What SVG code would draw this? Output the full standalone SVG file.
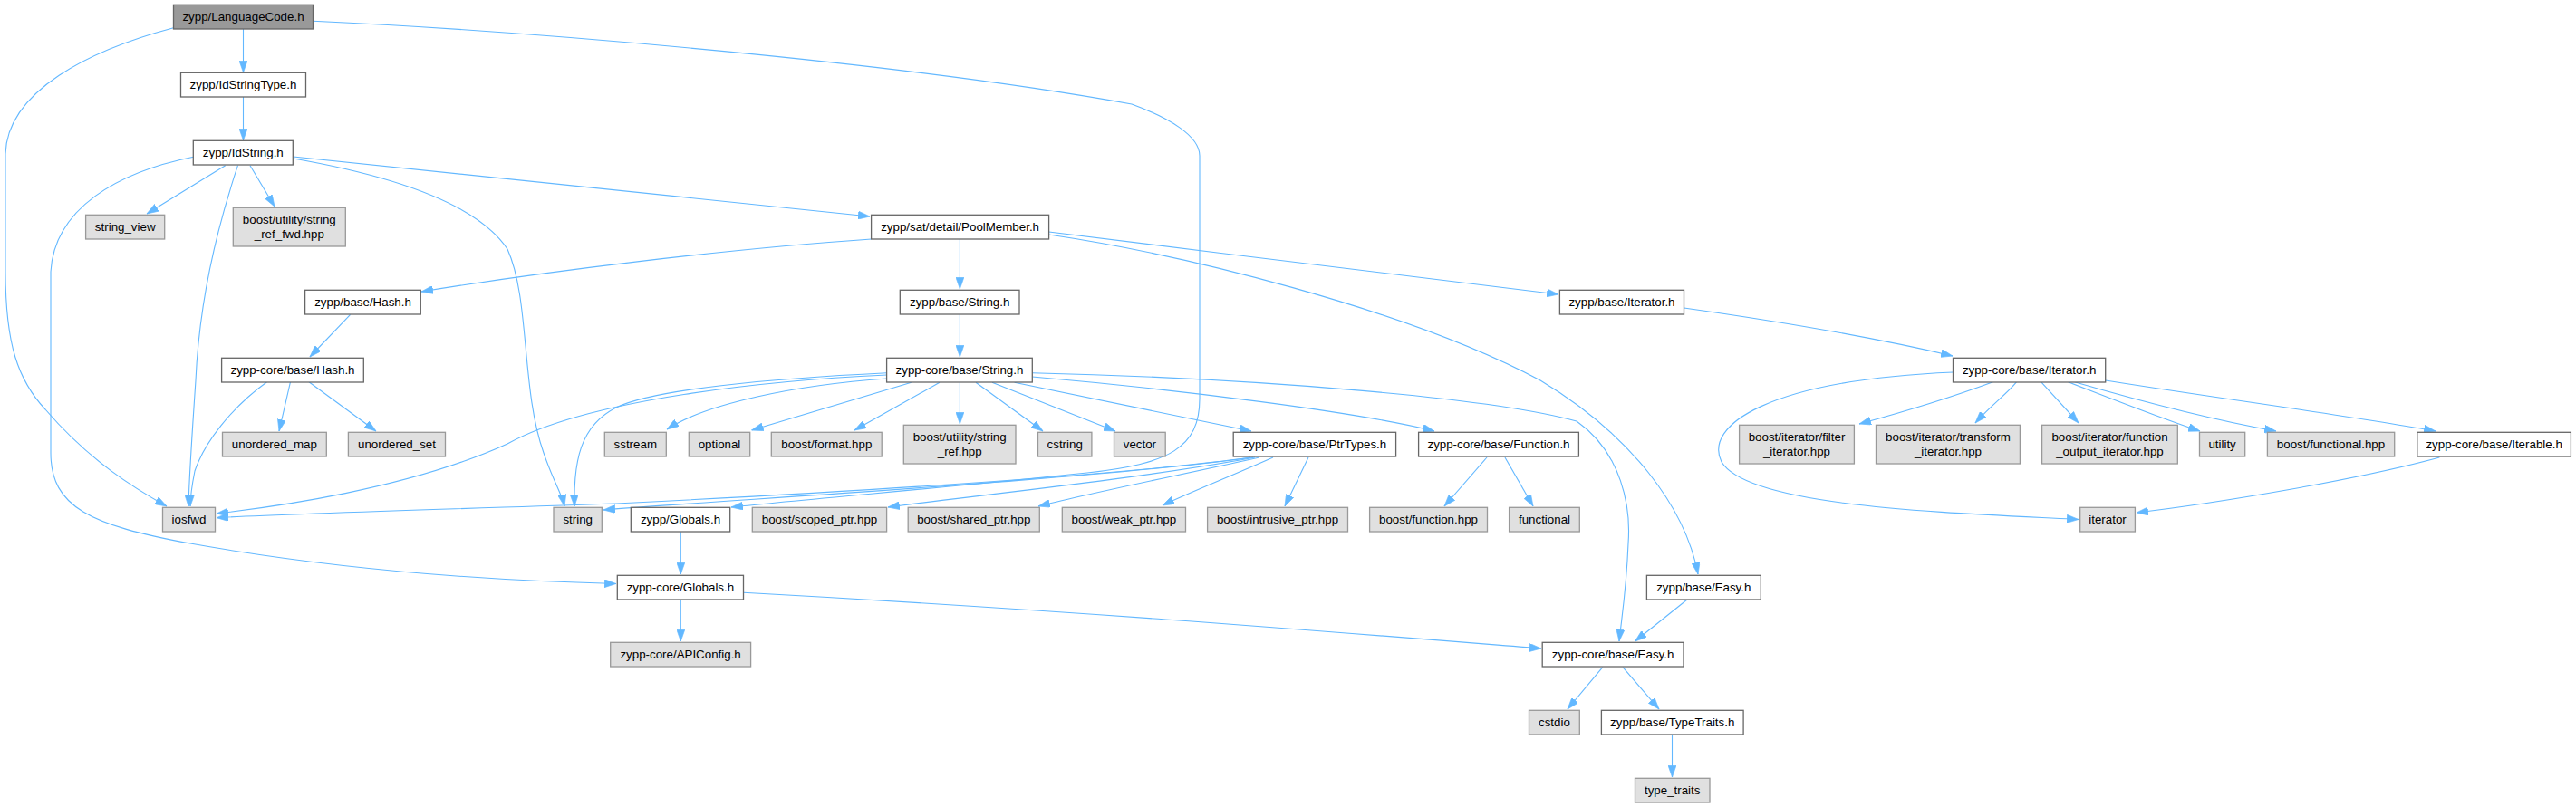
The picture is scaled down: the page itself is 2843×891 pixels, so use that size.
<svg xmlns="http://www.w3.org/2000/svg" width="2843" height="891" viewBox="0 0 2843 891">
<style>
rect{stroke-width:1.3}
.w{fill:#ffffff;stroke:#666666}
.g{fill:#e0e0e0;stroke:#999999}
.r{fill:#999999;stroke:#666666}
text{font-family:"Liberation Sans",Arial,Helvetica,sans-serif;font-size:13.33px;fill:#000000;text-anchor:middle}
.e path{fill:none;stroke:#63b8ff;stroke-width:1.1;marker-end:url(#a)}
</style>
<defs>
<marker id="a" viewBox="0 0 10 7" refX="10" refY="3.5" markerWidth="13" markerHeight="9" markerUnits="userSpaceOnUse" orient="auto">
<path d="M0,0 L10,3.5 L0,7 z" fill="#63b8ff" stroke="#63b8ff" stroke-width="0.5"/>
</marker>
</defs>
<rect width="2843" height="891" fill="#ffffff"/>
<g class="e">
<path d="M268.5,32 L268.5,80"/>
<path d="M191.5,30.7 C100,55 8,100 6,170 L6,300 C6,380 20,420 50,452 C100,510 150,540 184,559"/>
<path d="M345.5,23.3 C600,35 1000,70 1249,115 C1290,130 1324,150 1324,172 L1324,440 C1324,495 1290,512 1200,522 C1050,538 900,550 807,560"/>
<path d="M268.5,107 L268.5,155"/>
<path d="M248.7,182.7 L162,236"/>
<path d="M276,182.7 L303,228"/>
<path d="M262.5,182.7 C240,250 220,330 216,420 C212,480 209,520 208,559"/>
<path d="M323.7,175 C450,197 530,230 560,275 C585,330 575,430 600,500 C610,530 620,545 623,559"/>
<path d="M323.7,173 L960,239"/>
<path d="M213.4,173.3 C130,190 60,230 56,300 L56,500 C56,560 100,580 210,600 C350,625 500,640 680,644.5"/>
<path d="M961.6,264 C800,275 600,300 465,322"/>
<path d="M1059.4,264 L1059.4,319"/>
<path d="M1157.6,256 C1350,280 1600,310 1720,325"/>
<path d="M1157.6,259 C1300,280 1550,340 1700,420 C1800,480 1860,560 1874,634"/>
<path d="M386.6,347.3 L342,394"/>
<path d="M294.6,421.7 C255,450 225,490 215,520 C212,535 210,545 210,559"/>
<path d="M320.5,421.7 L308,476"/>
<path d="M341,421.7 L415,476"/>
<path d="M1059.4,347 L1059.4,394"/>
<path d="M978.6,411.7 C850,418 720,430 680,450 C640,470 633,510 634,559"/>
<path d="M978.6,414 C850,420 650,440 560,490 C450,540 300,560 239,567"/>
<path d="M978.6,418 C880,425 780,445 736,474"/>
<path d="M1005.8,422.3 L829.5,475"/>
<path d="M1037,422.3 L943,475"/>
<path d="M1059.4,422.3 L1059.4,468"/>
<path d="M1077,422.3 L1151,476"/>
<path d="M1095,422.3 L1231,476"/>
<path d="M1119.6,422.3 L1381,476"/>
<path d="M1139.3,416 C1300,430 1500,455 1583,476"/>
<path d="M1139.3,411.7 C1400,418 1650,440 1740,465 C1790,500 1800,560 1797,600 C1795,650 1790,680 1787,708"/>
<path d="M1858.5,340 C2000,360 2100,380 2155,393"/>
<path d="M2155.5,411 C1950,420 1880,470 1900,510 C1930,560 2150,566 2294,573.5"/>
<path d="M2199.5,421.7 C2150,440 2100,455 2052,468"/>
<path d="M2225.6,421.7 C2215,435 2200,445 2180,467"/>
<path d="M2252.6,421.7 L2294,467"/>
<path d="M2282.5,421.7 C2330,440 2380,460 2428,476"/>
<path d="M2289.6,421.7 C2370,445 2450,465 2512,476"/>
<path d="M2323.7,420 C2450,440 2600,460 2688,476"/>
<path d="M2692.4,505 C2600,530 2450,555 2358,566"/>
<path d="M1380,505 C1200,530 800,550 680,556 C500,562 300,568 239,571.7"/>
<path d="M1383,505 C1200,530 800,552 666,563"/>
<path d="M1385,505 C1250,530 1050,550 980,560"/>
<path d="M1390,505 C1300,525 1200,545 1146,559"/>
<path d="M1405,505 C1360,525 1310,545 1283,558"/>
<path d="M1444,505 L1418,559"/>
<path d="M1641,505 L1594,559"/>
<path d="M1661,505 L1692,559"/>
<path d="M751.3,587.3 L751.3,634"/>
<path d="M751.3,662 L751.3,708"/>
<path d="M820.5,654.3 C1200,675 1500,700 1701,716"/>
<path d="M1863,661.3 L1804.5,708"/>
<path d="M1768.75,736.7 L1730,783"/>
<path d="M1791,736.7 L1831,783"/>
<path d="M1845.5,811 L1845.5,858"/>
</g>
<g id="n1"><rect class="r" x="191.5" y="5.3" width="154" height="26.7"/><text x="268.5" y="23.3">zypp/LanguageCode.h</text></g>
<g id="n2"><rect class="w" x="199.5" y="80.3" width="138" height="26.7"/><text x="268.5" y="98.3">zypp/IdStringType.h</text></g>
<g id="n3"><rect class="w" x="213.3" y="155.3" width="110" height="26.7"/><text x="268.3" y="173.3">zypp/IdString.h</text></g>
<g id="n4"><rect class="g" x="94.6" y="237.3" width="87.1" height="26.7"/><text x="138.2" y="255.3">string_view</text></g>
<g id="n5"><rect class="g" x="257.3" y="229.3" width="124" height="42.7"/><text x="319.3" y="247.3">boost/utility/string</text><text x="319.3" y="263.3">_ref_fwd.hpp</text></g>
<g id="n6"><rect class="w" x="961.6" y="237.3" width="196" height="26.7"/><text x="1059.6" y="255.3">zypp/sat/detail/PoolMember.h</text></g>
<g id="n7"><rect class="w" x="336.6" y="320.3" width="127.7" height="26.7"/><text x="400.5" y="338.3">zypp/base/Hash.h</text></g>
<g id="n8"><rect class="w" x="993.3" y="320.3" width="131.7" height="26.7"/><text x="1059.2" y="338.3">zypp/base/String.h</text></g>
<g id="n9"><rect class="w" x="1721.4" y="320.3" width="137.1" height="26.7"/><text x="1790" y="338.3">zypp/base/Iterator.h</text></g>
<g id="n10"><rect class="w" x="244.6" y="395.3" width="156.7" height="26.7"/><text x="323" y="413.3">zypp-core/base/Hash.h</text></g>
<g id="n11"><rect class="w" x="978.6" y="395.3" width="160.7" height="26.7"/><text x="1059" y="413.3">zypp-core/base/String.h</text></g>
<g id="n12"><rect class="w" x="2155.5" y="395.3" width="168.2" height="26.7"/><text x="2239.6" y="413.3">zypp-core/base/Iterator.h</text></g>
<g id="n13"><rect class="g" x="245.5" y="477.3" width="114.8" height="26.7"/><text x="302.9" y="495.3">unordered_map</text></g>
<g id="n14"><rect class="g" x="384.4" y="477.3" width="107.1" height="26.7"/><text x="438" y="495.3">unordered_set</text></g>
<g id="n15"><rect class="g" x="667.3" y="477.3" width="68" height="26.7"/><text x="701.3" y="495.3">sstream</text></g>
<g id="n16"><rect class="g" x="760.3" y="477.3" width="67.4" height="26.7"/><text x="794" y="495.3">optional</text></g>
<g id="n17"><rect class="g" x="851.3" y="477.3" width="121.9" height="26.7"/><text x="912.3" y="495.3">boost/format.hpp</text></g>
<g id="n18"><rect class="g" x="997.3" y="469.3" width="123.7" height="42.7"/><text x="1059.2" y="487.3">boost/utility/string</text><text x="1059.2" y="503.3">_ref.hpp</text></g>
<g id="n19"><rect class="g" x="1145.5" y="477.3" width="59.4" height="26.7"/><text x="1175.2" y="495.3">cstring</text></g>
<g id="n20"><rect class="g" x="1229.5" y="477.3" width="56.7" height="26.7"/><text x="1257.9" y="495.3">vector</text></g>
<g id="n21"><rect class="w" x="1361.2" y="477.3" width="179.4" height="26.7"/><text x="1450.9" y="495.3">zypp-core/base/PtrTypes.h</text></g>
<g id="n22"><rect class="w" x="1565.6" y="477.3" width="176.8" height="26.7"/><text x="1654" y="495.3">zypp-core/base/Function.h</text></g>
<g id="n23"><rect class="g" x="1919.6" y="469.3" width="126.8" height="42.7"/><text x="1983" y="487.3">boost/iterator/filter</text><text x="1983" y="503.3">_iterator.hpp</text></g>
<g id="n24"><rect class="g" x="2070.5" y="469.3" width="158.9" height="42.7"/><text x="2150" y="487.3">boost/iterator/transform</text><text x="2150" y="503.3">_iterator.hpp</text></g>
<g id="n25"><rect class="g" x="2253.6" y="469.3" width="149.7" height="42.7"/><text x="2328.5" y="487.3">boost/iterator/function</text><text x="2328.5" y="503.3">_output_iterator.hpp</text></g>
<g id="n26"><rect class="g" x="2427.5" y="477.3" width="50.2" height="26.7"/><text x="2452.6" y="495.3">utility</text></g>
<g id="n27"><rect class="g" x="2502.4" y="477.3" width="140.3" height="26.7"/><text x="2572.5" y="495.3">boost/functional.hpp</text></g>
<g id="n28"><rect class="w" x="2667.8" y="477.3" width="169.6" height="26.7"/><text x="2752.6" y="495.3">zypp-core/base/Iterable.h</text></g>
<g id="n29"><rect class="g" x="179.5" y="560.3" width="58" height="26.7"/><text x="208.5" y="578.3">iosfwd</text></g>
<g id="n30"><rect class="g" x="611" y="560.3" width="53.3" height="26.7"/><text x="637.7" y="578.3">string</text></g>
<g id="n31"><rect class="w" x="696.3" y="560.3" width="109.4" height="26.7"/><text x="751" y="578.3">zypp/Globals.h</text></g>
<g id="n32"><rect class="g" x="830.3" y="560.3" width="148.3" height="26.7"/><text x="904.5" y="578.3">boost/scoped_ptr.hpp</text></g>
<g id="n33"><rect class="g" x="1002.2" y="560.3" width="145.1" height="26.7"/><text x="1074.8" y="578.3">boost/shared_ptr.hpp</text></g>
<g id="n34"><rect class="g" x="1172.3" y="560.3" width="136.2" height="26.7"/><text x="1240.4" y="578.3">boost/weak_ptr.hpp</text></g>
<g id="n35"><rect class="g" x="1332.6" y="560.3" width="154.9" height="26.7"/><text x="1410" y="578.3">boost/intrusive_ptr.hpp</text></g>
<g id="n36"><rect class="g" x="1511.6" y="560.3" width="129.9" height="26.7"/><text x="1576.5" y="578.3">boost/function.hpp</text></g>
<g id="n37"><rect class="g" x="1665.6" y="560.3" width="77.7" height="26.7"/><text x="1704.5" y="578.3">functional</text></g>
<g id="n38"><rect class="g" x="2295.7" y="560.3" width="60.7" height="26.7"/><text x="2326" y="578.3">iterator</text></g>
<g id="n39"><rect class="w" x="681.3" y="635.3" width="139.2" height="26.7"/><text x="750.9" y="653.3">zypp-core/Globals.h</text></g>
<g id="n40"><rect class="w" x="1817.4" y="635.3" width="125.9" height="26.7"/><text x="1880.3" y="653.3">zypp/base/Easy.h</text></g>
<g id="n41"><rect class="g" x="673.7" y="709.3" width="154.9" height="26.7"/><text x="751.1" y="727.3">zypp-core/APIConfig.h</text></g>
<g id="n42"><rect class="w" x="1702.2" y="709.3" width="155.8" height="26.7"/><text x="1780.1" y="727.3">zypp-core/base/Easy.h</text></g>
<g id="n43"><rect class="g" x="1687.5" y="784.3" width="55.8" height="26.7"/><text x="1715.4" y="802.3">cstdio</text></g>
<g id="n44"><rect class="w" x="1767.4" y="784.3" width="156.7" height="26.7"/><text x="1845.7" y="802.3">zypp/base/TypeTraits.h</text></g>
<g id="n45"><rect class="g" x="1804.5" y="859.3" width="82.5" height="26.7"/><text x="1845.7" y="877.3">type_traits</text></g>
</svg>
